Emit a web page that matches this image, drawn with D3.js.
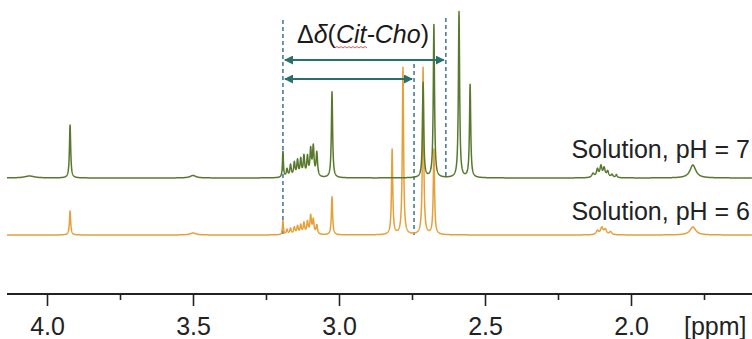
<!DOCTYPE html>
<html>
<head>
<meta charset="utf-8">
<script src="https://cdn.jsdelivr.net/npm/d3@7"></script>
<style>
  html, body { margin: 0; padding: 0; background: #ffffff; }
  svg { display: block; font-family: "Liberation Sans", Arial, sans-serif; }
</style>
</head>
<body>
<svg id="chart" width="752" height="339"></svg>
<script>
// ---- data (chemical shift in ppm, intensity in a.u., half-width in ppm) ----
const seriesNames = ["Solution, pH = 7", "Solution, pH = 6"];
const peaksPH7 = [
  [4.06, 2, 0.02], [3.921, 53, 0.0025], [3.50, 2.5, 0.012],
  [3.192, 26, 0.002], [3.178, 8, 0.003], [3.166, 12, 0.003], [3.153, 14, 0.003],
  [3.142, 16, 0.003], [3.131, 17, 0.003], [3.120, 20, 0.003], [3.108, 19, 0.003],
  [3.097, 26, 0.003], [3.088, 29, 0.003], [3.076, 24, 0.003],
  [3.024, 86, 0.0025],
  [2.712, 95, 0.0025], [2.675, 153, 0.0025], [2.589, 166, 0.0025], [2.551, 93, 0.0025],
  [2.130, 4, 0.005], [2.115, 8, 0.004], [2.103, 11, 0.004], [2.092, 9, 0.004],
  [2.080, 6, 0.004], [2.065, 3, 0.004], [2.050, 3, 0.003],
  [1.788, 13, 0.012]
];
const peaksPH6 = [
  [3.921, 24, 0.0025], [3.50, 2, 0.012],
  [3.192, 14, 0.002], [3.178, 5, 0.003], [3.166, 6, 0.003], [3.153, 7, 0.003],
  [3.142, 8, 0.003], [3.131, 9, 0.003], [3.120, 11, 0.003], [3.108, 12, 0.003],
  [3.097, 18, 0.003], [3.088, 14, 0.003], [3.076, 9, 0.003],
  [3.024, 38, 0.0025],
  [2.818, 85, 0.0025], [2.781, 167, 0.0025], [2.712, 167, 0.0025], [2.675, 85, 0.0025],
  [2.115, 4, 0.005], [2.100, 7, 0.005], [2.088, 5, 0.005], [2.070, 3, 0.005],
  [1.788, 8, 0.012]
];
const majorTicks = [4.0, 3.5, 3.0, 2.5, 2.0];
const minorTicks = [3.75, 3.25, 2.75, 2.25, 1.75];
const markerShifts = [3.192, 2.743, 2.634];   // dashed guide lines (ppm)
const arrowSpans = [[3.192, 2.634], [3.192, 2.743]];
const unitLabel = "[ppm]";

// ---- scales ----
const svg = d3.select("#chart");
const x = d3.scaleLinear().domain([4.0, 2.0]).range([47, 631]);
const y = d3.scaleLinear().domain([0, 300]).range([300, 0]);
const ppmStart = x.invert(7), ppmEnd = x.invert(752);

function spectrum(peaks, offset) {
  const pts = [];
  const step = 0.0005;
  for (let p = ppmStart; p >= ppmEnd; p -= step) {
    let v = 0;
    for (const [c, h, w] of peaks) {
      const d = p - c;
      v += h * w * w / (d * d + w * w);
    }
    pts.push([p, v + offset]);
  }
  return pts;
}
const line = d3.line().x(d => x(d[0])).y(d => y(d[1]));

// ---- guide lines ----
const guideColor = "#2d6a88";
const guideTop = [20, 64, 18];
const guideBottom = [235, 235, 179];
svg.append("g").selectAll("line").data(markerShifts).join("line")
  .attr("x1", d => x(d)).attr("x2", d => x(d))
  .attr("y1", (d, i) => guideTop[i]).attr("y2", (d, i) => guideBottom[i])
  .attr("stroke", guideColor).attr("stroke-width", 1.4)
  .attr("stroke-dasharray", "4,3");

// ---- spectra ----
svg.append("path").datum(spectrum(peaksPH6, 65))
  .attr("d", line).attr("fill", "none")
  .attr("stroke", "#e6a03a").attr("stroke-width", 1.5).attr("stroke-linejoin", "round");
svg.append("path").datum(spectrum(peaksPH7, 122))
  .attr("d", line).attr("fill", "none")
  .attr("stroke", "#58792d").attr("stroke-width", 1.5).attr("stroke-linejoin", "round");

// ---- arrows ----
const defs = svg.append("defs");
const arrowColor = "#2b6f6c";
defs.append("marker").attr("id", "ah").attr("viewBox", "0 0 10 10")
  .attr("refX", 9).attr("refY", 5).attr("markerWidth", 4.5).attr("markerHeight", 4.5)
  .attr("orient", "auto-start-reverse")
  .append("path").attr("d", "M0,0 L10,5 L0,10 z").attr("fill", arrowColor);
const arrowY = [60, 79];
svg.append("g").selectAll("line").data(arrowSpans).join("line")
  .attr("x1", d => x(d[0]) + 2).attr("x2", d => x(d[1]) - 2)
  .attr("y1", (d, i) => arrowY[i]).attr("y2", (d, i) => arrowY[i])
  .attr("stroke", arrowColor).attr("stroke-width", 2)
  .attr("marker-start", "url(#ah)").attr("marker-end", "url(#ah)");

// ---- annotation text ----
const ann = svg.append("text").attr("x", 363).attr("y", 43)
  .attr("text-anchor", "middle").attr("font-size", 25).attr("fill", "#1a1a1a");
ann.append("tspan").text("Δ");
ann.append("tspan").attr("font-style", "italic").text("δ");
ann.append("tspan").text("(");
ann.append("tspan").attr("font-style", "italic").text("Cit-Cho");
ann.append("tspan").text(")");
// spell-check squiggle under "Cit"
let sq = "M335,48";
for (let i = 0; i < 8; i++) sq += ` l2,-1.5 l2,1.5`;
svg.append("path").attr("d", sq).attr("fill", "none").attr("stroke", "#d03030").attr("stroke-width", 0.8);

// ---- series labels ----
const labelY = [158, 220];
svg.append("g").selectAll("text").data(seriesNames).join("text")
  .attr("x", 750).attr("y", (d, i) => labelY[i])
  .attr("text-anchor", "end").attr("font-size", 25).attr("fill", "#222")
  .text(d => d);

// ---- axis ----
const axisG = svg.append("g").attr("transform", "translate(0,294)");
axisG.call(d3.axisBottom(x).tickValues(majorTicks).tickSize(12).tickPadding(11)
  .tickFormat(d3.format(".1f")));
axisG.append("g").call(d3.axisBottom(x).tickValues(minorTicks).tickSize(6).tickFormat(""))
  .select(".domain").remove();
axisG.select(".domain").attr("d", "M7,0H752").attr("stroke", "#222").attr("stroke-width", 2);
axisG.selectAll(".tick line").attr("stroke", "#222").attr("stroke-width", 1.6);
axisG.selectAll(".tick text").attr("font-size", 25).attr("fill", "#222")
  .attr("font-family", "Liberation Sans, Arial, sans-serif");
svg.append("text").attr("x", 684).attr("y", 335).attr("font-size", 25)
  .attr("fill", "#222").text(unitLabel);
</script>
</body>
</html>
